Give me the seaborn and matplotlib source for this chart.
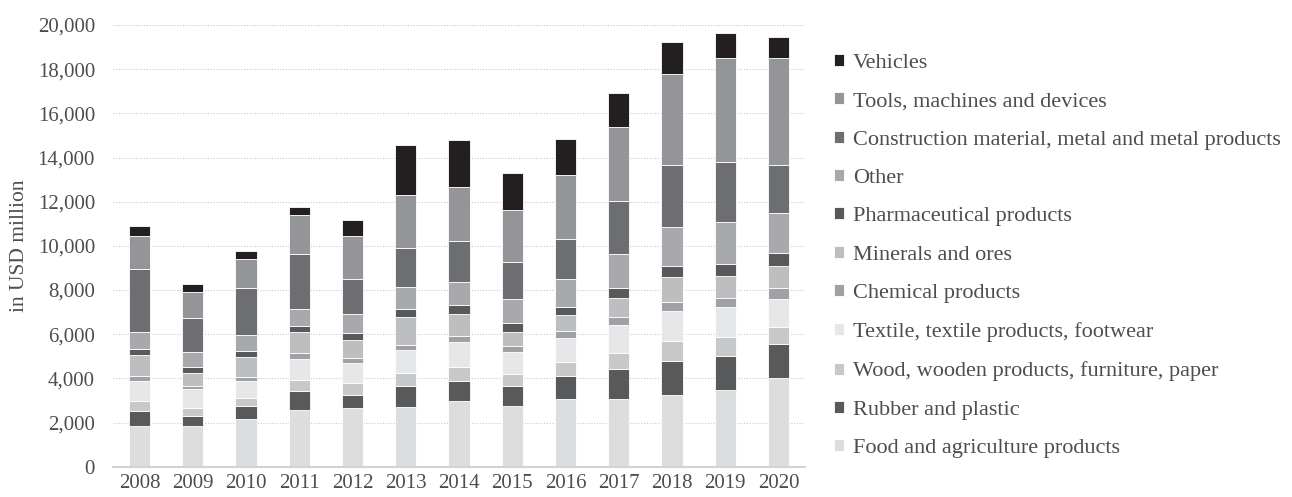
import numpy as np
import pandas as pd
import matplotlib
matplotlib.use("Agg")
import matplotlib.pyplot as plt
from matplotlib.ticker import FuncFormatter
import seaborn as sns

# Donnees (en millions USD)
years = [2008, 2009, 2010, 2011, 2012, 2013, 2014, 2015, 2016, 2017, 2018, 2019, 2020]

food = [1840, 1840, 2170, 2570, 2640, 2720, 2970, 2760, 3080, 3080, 3250, 3470, 4000]
rubber = [680, 450, 570, 860, 600, 940, 910, 890, 1030, 1330, 1540, 1540, 1540]
wood = [450, 390, 390, 500, 530, 570, 650, 570, 650, 730, 880, 880, 790]
textile = [920, 820, 750, 940, 940, 1060, 1130, 980, 1070, 1270, 1360, 1330, 1270]
chemical = [230, 150, 170, 270, 200, 230, 260, 270, 320, 390, 410, 440, 470]
minerals = [940, 600, 920, 940, 830, 1240, 1000, 630, 710, 860, 1150, 970, 1030]
pharma = [260, 270, 260, 270, 330, 380, 410, 390, 390, 450, 480, 570, 590]
other = [800, 680, 720, 790, 850, 1000, 1030, 1090, 1270, 1540, 1800, 1890, 1810]
construction = [2850, 1540, 2160, 2510, 1600, 1780, 1870, 1690, 1800, 2400, 2780, 2720, 2170]
tools = [1480, 1180, 1310, 1740, 1930, 2370, 2450, 2370, 2870, 3350, 4110, 4680, 4820]
vehicles = [450, 350, 330, 380, 730, 2270, 2100, 1680, 1650, 1540, 1470, 1130, 970]

# ordre de la legende (haut -> bas), la derniere categorie est en bas de la pile
categories = [
    "Vehicles",
    "Tools, machines and devices",
    "Construction material, metal and metal products",
    "Other",
    "Pharmaceutical products",
    "Minerals and ores",
    "Chemical products",
    "Textile, textile products, footwear",
    "Wood, wooden products, furniture, paper",
    "Rubber and plastic",
    "Food and agriculture products",
]
series = [vehicles, tools, construction, other, pharma, minerals,
          chemical, textile, wood, rubber, food]
colors = ["#231f20", "#939598", "#6d6e71", "#a7a9ac", "#58595b", "#bcbec0",
          "#a0a1a4", "#e6e7e8", "#c7c8ca", "#58595b", "#dcdddf"]

rows = []
for cat, vals in zip(categories, series):
    for y, v in zip(years, vals):
        rows.append({"year": y, "category": cat, "value": v})
df = pd.DataFrame(rows)

sns.set_style("white")
plt.rcParams["font.family"] = ["Liberation Serif", "DejaVu Serif"]
text_color = "#4d4d4f"

fig = plt.figure(figsize=(12.92, 4.97), dpi=100)
ax = fig.add_axes([113 / 1292, 30.3 / 497, 692 / 1292, 441.7 / 497])

sns.histplot(data=df, x="year", weights="value", hue="category",
             hue_order=categories, palette=colors, multiple="stack",
             discrete=True, shrink=0.4, alpha=1, edgecolor="white",
             linewidth=0.6, ax=ax)

ax.set_xlim(years[0] - 0.5, years[-1] + 0.5)
ax.set_ylim(0, 20000)
ax.set_xticks(years)
ax.set_yticks(np.arange(0, 20001, 2000))
ax.yaxis.set_major_formatter(FuncFormatter(lambda v, p: f"{int(v):,}"))
ax.tick_params(axis="both", length=0, labelsize=15, colors=text_color)
ax.tick_params(axis="y", pad=13)
ax.tick_params(axis="x", pad=5)
ax.set_axisbelow(True)
ax.yaxis.grid(True, linestyle=(0, (1, 1.5)), color="#c8c9cb", linewidth=0.8)
ax.set_xlabel("")
ax.set_ylabel("in USD million", fontsize=15.5, color=text_color, labelpad=6)

for side in ["top", "right", "left"]:
    ax.spines[side].set_visible(False)
ax.spines["bottom"].set_color("#d1d3d4")
ax.spines["bottom"].set_linewidth(1.5)

sns.move_legend(ax, "upper left", bbox_to_anchor=(834 / 1292, 1 - 54 / 497),
                bbox_transform=fig.transFigure, frameon=False, title=None,
                fontsize=16, handlelength=0.45, handleheight=0.45,
                handletextpad=0.4, labelspacing=0.87, borderpad=0,
                borderaxespad=0, labelcolor=text_color)

fig.savefig("out.png", dpi=100)
